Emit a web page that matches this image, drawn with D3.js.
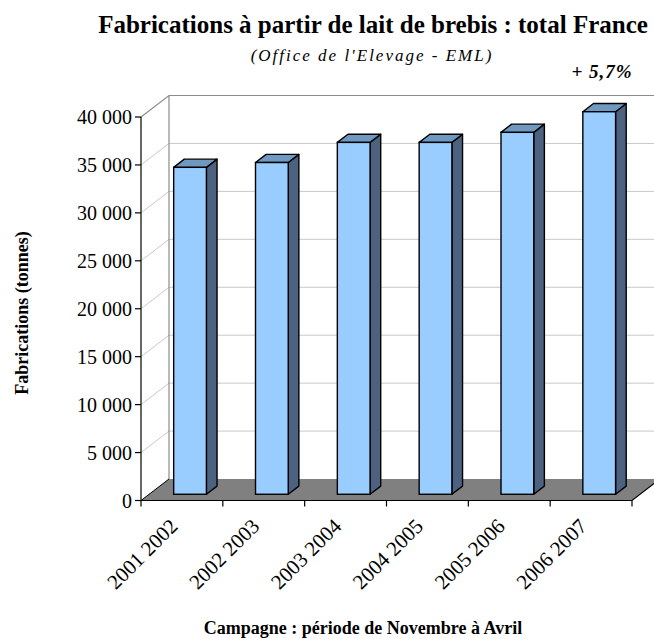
<!DOCTYPE html>
<html>
<head>
<meta charset="utf-8">
<script src="https://cdn.jsdelivr.net/npm/d3@7"></script>
<style>
  body { margin: 0; background: #fff; }
  svg text { font-family: "Liberation Serif", "Times New Roman", serif; fill: #000; }
</style>
</head>
<body>
<svg id="chart" width="654" height="639"></svg>
<script>
// data
var campagnes = ["2001 2002", "2002 2003", "2003 2004", "2004 2005", "2005 2006", "2006 2007"];
var tonnes = [34100, 34600, 36700, 36700, 37750, 39900];
var yTicks = [0, 5000, 10000, 15000, 20000, 25000, 30000, 35000, 40000];
var titre = "Fabrications à partir de lait de brebis : total France";
var sousTitre = "(Office de l'Elevage - EML)";
var evolution = "+ 5,7%";
var titreY = "Fabrications (tonnes)";
var titreX = "Campagne : période de Novembre à Avril";

var svg = d3.select("#chart");

// plot area (front plane) and depth of the 3d box
var pLeft = 141, pRight = 632, pBottom = 500.5, pTop = 117;
var depthX = 28, depthY = -21.5;
// bars sit in the middle of the depth
var barF0 = 0.29, barF1 = 0.67;

var x = d3.scaleBand().domain(campagnes).range([pLeft, pRight]).paddingInner(0.6).paddingOuter(0.3);
var y = d3.scaleLinear().domain([0, 40000]).range([pBottom, pTop]);

function fmt(v) { return d3.format(",")(v).replace(/,/g, " "); }

// back wall gridlines
svg.append("g").selectAll("line").data(yTicks.slice(1, -1)).enter().append("line")
  .attr("x1", pLeft + depthX).attr("x2", pRight + depthX + 30)
  .attr("y1", function(d) { return y(d) + depthY; })
  .attr("y2", function(d) { return y(d) + depthY; })
  .attr("stroke", "#c8c8c8").attr("stroke-width", 1);

// side wall gridlines (diagonals)
svg.append("g").selectAll("line").data(yTicks.slice(1, -1)).enter().append("line")
  .attr("x1", pLeft).attr("x2", pLeft + depthX)
  .attr("y1", function(d) { return y(d); })
  .attr("y2", function(d) { return y(d) + depthY; })
  .attr("stroke", "#c8c8c8").attr("stroke-width", 1);

// wall borders
svg.append("path")
  .attr("d", "M" + pLeft + "," + y(40000) +
             "L" + (pLeft + depthX) + "," + (y(40000) + depthY) +
             "L" + (pRight + depthX + 30) + "," + (y(40000) + depthY) +
             "M" + (pLeft + depthX) + "," + (y(40000) + depthY) +
             "L" + (pLeft + depthX) + "," + (pBottom + depthY))
  .attr("fill", "none").attr("stroke", "#8c8c8c").attr("stroke-width", 1.2);

// floor
svg.append("path")
  .attr("d", "M" + pLeft + "," + pBottom +
             "L" + pRight + "," + pBottom +
             "L" + (pRight + depthX) + "," + (pBottom + depthY) +
             "L" + (pLeft + depthX) + "," + (pBottom + depthY) + "Z")
  .attr("fill", "#808080").attr("stroke", "none");
svg.append("path")
  .attr("d", "M" + pLeft + "," + pBottom +
             "L" + pRight + "," + pBottom +
             "L" + (pRight + depthX) + "," + (pBottom + depthY))
  .attr("fill", "none").attr("stroke", "#000").attr("stroke-width", 1.2);
svg.append("line")
  .attr("x1", pLeft).attr("x2", pLeft + depthX)
  .attr("y1", pBottom).attr("y2", pBottom + depthY)
  .attr("stroke", "#000").attr("stroke-width", 1);

// bars
var ox = depthX * barF0, oy = depthY * barF0;
var bx = depthX * (barF1 - barF0), by = depthY * (barF1 - barF0);
var bars = svg.append("g").selectAll("g").data(campagnes).enter().append("g");
bars.each(function(c, i) {
  var g = d3.select(this);
  var x0 = x(c) + ox, x1 = x0 + x.bandwidth();
  var y0 = y(0) + oy, y1 = y(tonnes[i]) + oy;
  // side
  g.append("path")
    .attr("d", "M" + x1 + "," + y0 + "L" + (x1 + bx) + "," + (y0 + by) +
               "L" + (x1 + bx) + "," + (y1 + by) + "L" + x1 + "," + y1 + "Z")
    .attr("fill", "#4d6280").attr("stroke", "#000").attr("stroke-width", 1.4).attr("stroke-linejoin", "round");
  // top
  g.append("path")
    .attr("d", "M" + x0 + "," + y1 + "L" + x1 + "," + y1 +
               "L" + (x1 + bx) + "," + (y1 + by) + "L" + (x0 + bx) + "," + (y1 + by) + "Z")
    .attr("fill", "#7099c2").attr("stroke", "#000").attr("stroke-width", 1.4).attr("stroke-linejoin", "round");
  // front
  g.append("rect")
    .attr("x", x0).attr("y", y1)
    .attr("width", x.bandwidth()).attr("height", y0 - y1)
    .attr("fill", "#99ccff").attr("stroke", "#000").attr("stroke-width", 1.4);
});

// y axis
svg.append("line").attr("x1", pLeft).attr("x2", pLeft).attr("y1", pTop).attr("y2", pBottom)
  .attr("stroke", "#000").attr("stroke-width", 1.2);
var yt = svg.append("g").selectAll("g").data(yTicks).enter().append("g");
yt.append("line").attr("x1", pLeft - 6).attr("x2", pLeft)
  .attr("y1", function(d) { return y(d); }).attr("y2", function(d) { return y(d); })
  .attr("stroke", "#000").attr("stroke-width", 1.2);
yt.append("text").attr("x", pLeft - 9).attr("y", function(d) { return y(d); })
  .attr("dy", "0.35em").attr("text-anchor", "end").attr("font-size", 20)
  .text(function(d) { return fmt(d); });

// x axis ticks at category boundaries
var step = x.step();
svg.append("g").selectAll("line").data(d3.range(campagnes.length + 1)).enter().append("line")
  .attr("x1", function(i) { return pLeft + i * step; })
  .attr("x2", function(i) { return pLeft + i * step; })
  .attr("y1", pBottom).attr("y2", pBottom + 6)
  .attr("stroke", "#000").attr("stroke-width", 1.2);

// x labels, rotated
svg.append("g").selectAll("text").data(campagnes).enter().append("text")
  .attr("transform", function(c) {
    return "translate(" + (x(c) + x.bandwidth() / 2 - 3) + "," + (pBottom + 27) + ") rotate(-45)";
  })
  .attr("text-anchor", "end").attr("font-size", 21)
  .text(function(c) { return c; });

// titles
svg.append("text").attr("x", 373).attr("y", 33).attr("text-anchor", "middle")
  .attr("font-size", 25).attr("font-weight", "bold").text(titre);
svg.append("text").attr("x", 372).attr("y", 61).attr("text-anchor", "middle")
  .attr("font-size", 17).attr("font-style", "italic").attr("letter-spacing", 2).text(sousTitre);
svg.append("text").attr("x", 602).attr("y", 78).attr("text-anchor", "middle")
  .attr("font-size", 19).attr("font-style", "italic").attr("font-weight", "bold")
  .attr("letter-spacing", 1).text(evolution);
svg.append("text").attr("transform", "translate(22,313) rotate(-90)")
  .attr("dy", "0.35em").attr("text-anchor", "middle")
  .attr("font-size", 18).attr("font-weight", "bold").text(titreY);
svg.append("text").attr("x", 363).attr("y", 634).attr("text-anchor", "middle")
  .attr("font-size", 18).attr("font-weight", "bold").text(titreX);
</script>
</body>
</html>
